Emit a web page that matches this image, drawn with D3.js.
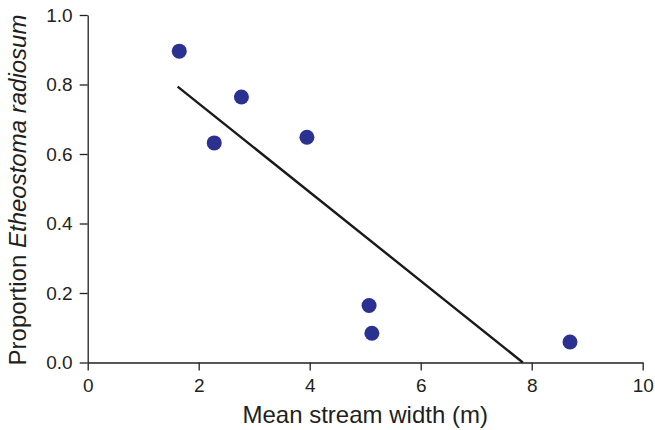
<!DOCTYPE html>
<html>
<head>
<meta charset="utf-8">
<script src="https://cdn.jsdelivr.net/npm/d3@7"></script>
<style>
  body { margin: 0; background: #fff; }
  svg text { font-family: "Liberation Sans", Arial, sans-serif; fill: #231f20; }
</style>
</head>
<body>
<div id="chart"></div>
<script>
// stream width (m) vs proportion of E. radiosum
var widthVals = [1.65, 2.28, 2.77, 3.95, 5.07, 5.12, 8.69];
var propVals = [0.896, 0.632, 0.764, 0.648, 0.164, 0.084, 0.059];
// fitted line end points
var fitX = [1.62, 7.84];
var fitY = [0.794, 0.0];
var xTicks = [0, 2, 4, 6, 8, 10];
var yTicks = [0, 0.2, 0.4, 0.6, 0.8, 1.0];

const W = 655, H = 430;
const margin = { top: 15, right: 12.3, bottom: 67.5, left: 87.7 };

const svg = d3.select('#chart')
  .append('svg')
  .attr('width', W)
  .attr('height', H);

const x = d3.scaleLinear().domain([0, 10]).range([margin.left, W - margin.right]);
const y = d3.scaleLinear().domain([0, 1]).range([H - margin.bottom, margin.top]);

const xAxis = svg.append('g')
  .attr('transform', `translate(0,${H - margin.bottom})`)
  .call(d3.axisBottom(x).tickValues(xTicks).tickSize(8).tickSizeOuter(0).tickPadding(8).tickFormat(d3.format('d')));

const yAxis = svg.append('g')
  .attr('transform', `translate(${margin.left},0)`)
  .call(d3.axisLeft(y).tickValues(yTicks).tickSize(8).tickSizeOuter(0).tickPadding(7).tickFormat(d3.format('.1f')));

[xAxis, yAxis].forEach(g => {
  g.selectAll('path, line').attr('stroke', '#231f20').attr('stroke-width', 1.3);
  g.selectAll('text').attr('font-size', 19).style('fill', '#231f20');
});

// regression line
svg.append('line')
  .attr('x1', x(fitX[0])).attr('y1', y(fitY[0]))
  .attr('x2', x(fitX[1])).attr('y2', y(fitY[1]))
  .attr('stroke', '#1a1a1a')
  .attr('stroke-width', 2.4);

svg.selectAll('circle')
  .data(widthVals.map((d, i) => [d, propVals[i]]))
  .enter()
  .append('circle')
  .attr('cx', d => x(d[0]))
  .attr('cy', d => y(d[1]))
  .attr('r', 7.5)
  .attr('fill', '#2b3190');

svg.append('text')
  .attr('x', (margin.left + W - margin.right) / 2)
  .attr('y', 423)
  .attr('text-anchor', 'middle')
  .attr('font-size', 24)
  .text('Mean stream width (m)');

const yl = svg.append('text')
  .attr('transform', 'translate(26,190) rotate(-90)')
  .attr('text-anchor', 'middle')
  .attr('font-size', 24);
yl.append('tspan').text('Proportion ');
yl.append('tspan').attr('font-style', 'italic').text('Etheostoma radiosum');
</script>
</body>
</html>
